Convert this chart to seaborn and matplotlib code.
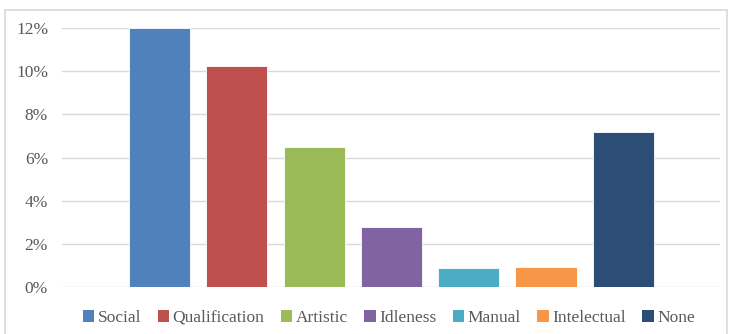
import matplotlib
matplotlib.use("Agg")
import matplotlib.pyplot as plt
import seaborn as sns
import pandas as pd
from matplotlib.patches import Rectangle, Patch
from matplotlib.ticker import PercentFormatter

categories = ["Social", "Qualification", "Artistic", "Idleness", "Manual", "Intelectual", "None"]
values = [12.0, 10.25, 6.5, 2.78, 0.9, 0.91, 7.2]
colors = ["#4f81bd", "#c0504d", "#9bbb59", "#8064a2", "#4bacc6", "#f79646", "#2c4d75"]
yticks = [0, 2, 4, 6, 8, 10, 12]

sns.set_style("white")
plt.rcParams["font.family"] = ["Liberation Serif", "DejaVu Serif"]

df = pd.DataFrame({"cat": categories, "val": values})

fig = plt.figure(figsize=(7.31, 3.34), dpi=100)
W, H = 731, 334
ax = fig.add_axes([62 / W, (H - 287) / H, (720 - 62) / W, (287 - 28) / H])

sns.barplot(data=df, x="cat", y="val", hue="cat", palette=colors, order=categories,
            hue_order=categories, width=0.79, dodge=False, legend=False, ax=ax,
            saturation=1, edgecolor="white", linewidth=0.6)

ax.set_xlim(-1.26, 7.25)
ax.set_ylim(0, 12)
ax.set_yticks(yticks)
ax.yaxis.set_major_formatter(PercentFormatter(decimals=0))
ax.set_xticks([])
ax.set_xlabel("")
ax.set_ylabel("")
ax.grid(axis="y", color="#d9d9d9", linewidth=1.0)
ax.set_axisbelow(True)
for s in ax.spines.values():
    s.set_visible(False)
ax.tick_params(axis="y", length=0, pad=10, labelsize=12.5, labelcolor="#595959")

handles = [Patch(facecolor=c, edgecolor="none", label=l) for c, l in zip(colors, categories)]
fig.legend(handles=handles, loc="center", bbox_to_anchor=(389 / W, (H - 318) / H),
           ncol=7, frameon=False, handlelength=0.65, handleheight=0.65, handletextpad=0.2,
           columnspacing=0.95, prop={"size": 12.5}, labelcolor="#595959")

fig.patches.append(Rectangle((4.5 / W, -0.01), (726.5 - 4.5) / W, (H - 10) / H + 0.01,
                             transform=fig.transFigure, fill=False, edgecolor="#d9d9d9",
                             linewidth=1.2, zorder=-1))

fig.savefig("out.png", dpi=100)
